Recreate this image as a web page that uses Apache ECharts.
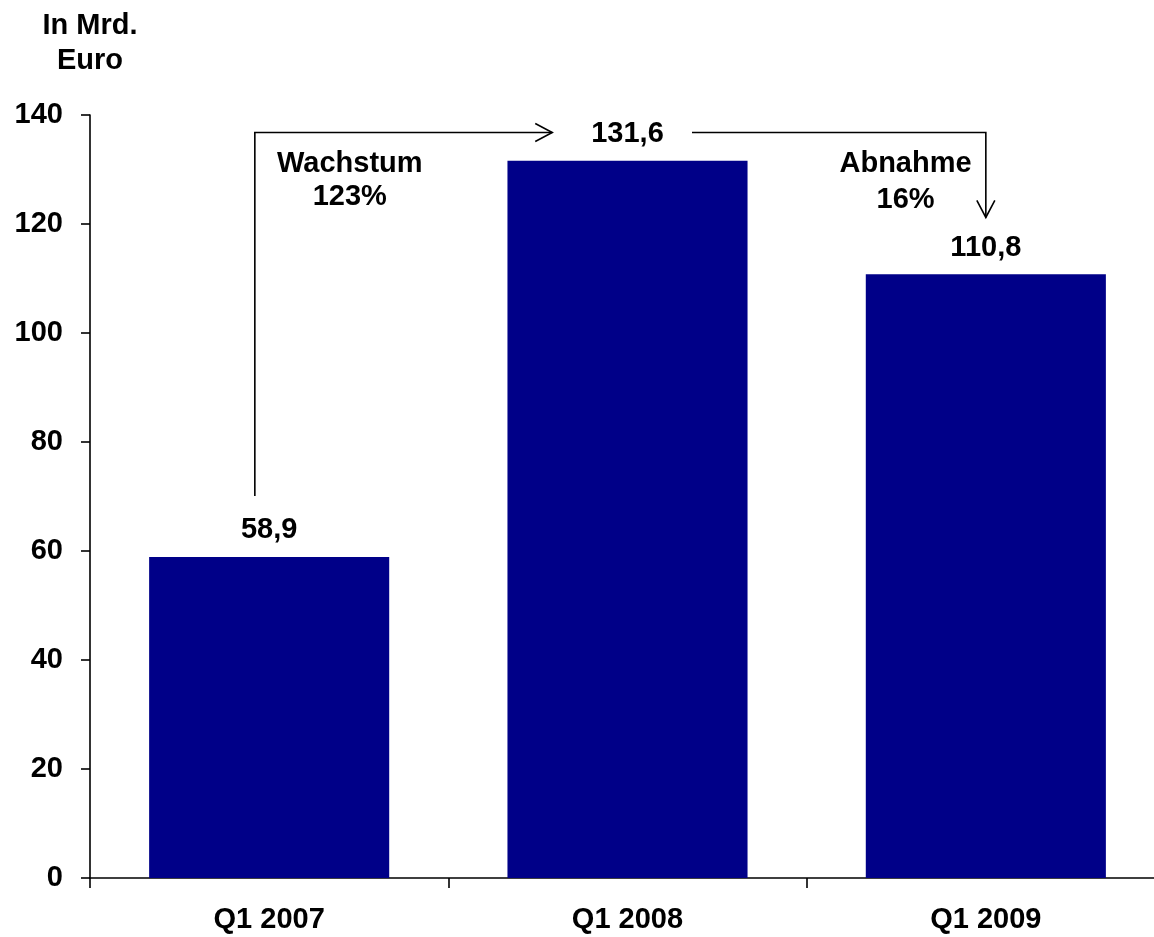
<!DOCTYPE html>
<html>
<head>
<meta charset="utf-8">
<script src="https://cdn.jsdelivr.net/npm/echarts@6/dist/echarts.min.js"></script>
<style>
html,body{margin:0;padding:0;background:#fff;overflow:hidden;width:1154px;height:937px;}
#chart{width:1165px;height:937px;}
</style>
</head>
<body>
<div id="chart"></div>
<script>
// ---- data ----
const categories = ['Q1 2007', 'Q1 2008', 'Q1 2009'];
const values = [58.9, 131.6, 110.8];
const yMin = 0, yMax = 140, yStep = 20;
const yAxisTitle = 'In Mrd.\nEuro';
// annotation arrows: [category position, value]
const growthArrow = [[-0.04, 70.1], [-0.04, 136.8], [0.79, 136.8]];
const declineArrow = [[1.18, 136.8], [2.0, 136.8], [2.0, 121.2]];
// annotation texts: [text, category position, value]
const notes = [
  ['Wachstum', 0.225, 131.1],
  ['123%', 0.225, 125.0],
  ['Abnahme', 1.776, 131.0],
  ['16%', 1.776, 124.4]
];

const FONT = '"Liberation Sans", Arial, sans-serif';
const FS = 29;
const chart = echarts.init(document.getElementById('chart'), null, {renderer: 'canvas'});

function toPx(api, pos) {
  const base = api.coord([0, pos[1]]);
  const band = api.size([1, 0])[0];
  return [base[0] + pos[0] * band, base[1]];
}

function arrowGroup(api, pts) {
  const px = pts.map(p => toPx(api, p));
  const a = px[px.length - 2], b = px[px.length - 1];
  const dx = b[0] - a[0], dy = b[1] - a[1];
  const len = Math.sqrt(dx * dx + dy * dy);
  const ux = dx / len, uy = dy / len;
  const L = 17, W = 9;
  const back = [b[0] - ux * L, b[1] - uy * L];
  const head = [
    [back[0] - uy * W, back[1] + ux * W],
    b,
    [back[0] + uy * W, back[1] - ux * W]
  ];
  const style = {stroke: '#000', lineWidth: 1.6, fill: null};
  return [
    {type: 'polyline', shape: {points: px}, style: style},
    {type: 'polyline', shape: {points: head}, style: style}
  ];
}

const option = {
  backgroundColor: '#fff',
  animation: false,
  grid: {left: 90, right: 0, top: 115, bottom: 59, containLabel: false},
  xAxis: {
    type: 'category',
    data: categories,
    boundaryGap: true,
    axisLine: {lineStyle: {color: '#000', width: 1.6}},
    axisTick: {show: true, alignWithLabel: false, length: 10, lineStyle: {color: '#000', width: 1.6}},
    axisLabel: {color: '#000', fontFamily: FONT, fontWeight: 'bold', fontSize: FS, margin: 27}
  },
  yAxis: {
    type: 'value',
    min: yMin, max: yMax, interval: yStep,
    name: yAxisTitle,
    nameLocation: 'end',
    nameGap: 37,
    nameTextStyle: {color: '#000', fontFamily: FONT, fontWeight: 'bold', fontSize: FS, lineHeight: 35, align: 'center'},
    splitLine: {show: false},
    axisLine: {show: true, lineStyle: {color: '#000', width: 1.6}},
    axisTick: {show: true, length: 9, lineStyle: {color: '#000', width: 1.6}},
    axisLabel: {color: '#000', fontFamily: FONT, fontWeight: 'bold', fontSize: FS, margin: 27}
  },
  series: [
    {
      type: 'bar',
      data: values,
      barWidth: '67%',
      itemStyle: {color: '#000088'},
      label: {
        show: true,
        position: 'top',
        distance: 12,
        color: '#000',
        fontFamily: FONT,
        fontWeight: 'bold',
        fontSize: FS,
        formatter: p => String(p.value).replace('.', ',')
      }
    },
    {
      type: 'custom',
      data: [0],
      silent: true,
      z: 10,
      renderItem: function (params, api) {
        const children = []
          .concat(arrowGroup(api, growthArrow))
          .concat(arrowGroup(api, declineArrow));
        notes.forEach(n => {
          const p = toPx(api, [n[1], n[2]]);
          children.push({
            type: 'text',
            style: {
              text: n[0], x: p[0], y: p[1],
              align: 'center', verticalAlign: 'middle',
              fill: '#000',
              font: 'bold ' + FS + 'px ' + FONT
            }
          });
        });
        return {type: 'group', children: children};
      }
    }
  ]
};
chart.setOption(option);
</script>
</body>
</html>
